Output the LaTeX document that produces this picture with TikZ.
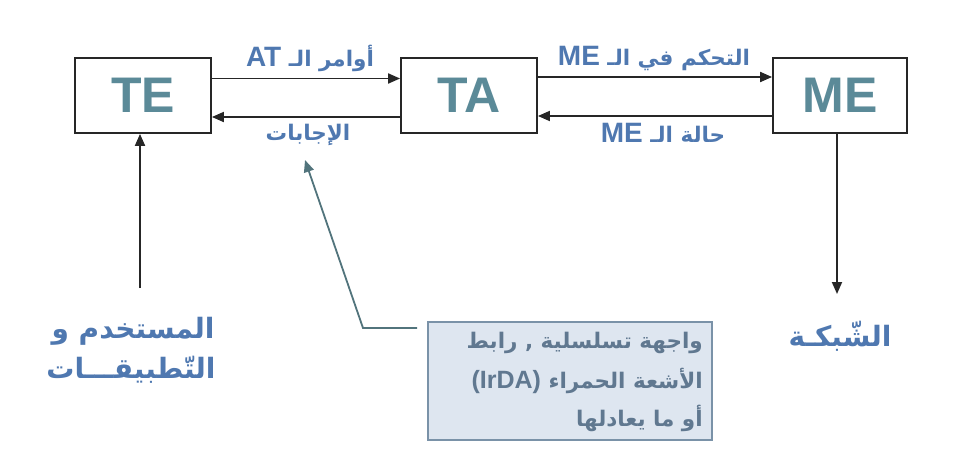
\documentclass[tikz,border=0pt]{standalone}
\usepackage{fontspec}
\usetikzlibrary{arrows.meta}
\setmainfont{Liberation Sans}
\newfontfamily\arabicfont[Script=Arabic]{DejaVu Sans}
\newfontfamily\latinfont{Liberation Sans}
\TeXXeTstate=1
\definecolor{boxtext}{HTML}{5B8A98}
\definecolor{lbl}{HTML}{4F78B0}
\definecolor{infofill}{HTML}{DEE6F0}
\definecolor{infoline}{HTML}{7A92A8}
\definecolor{leader}{HTML}{52747C}
\definecolor{infotext}{HTML}{607890}
\tikzset{
  unitbox/.style={draw=black!85, line width=1.8pt, fill=white, minimum width=136pt, minimum height=75pt,
    inner sep=0pt, font=\latinfont\bfseries\fontsize{50}{50}\selectfont, text=boxtext},
  arr/.style={draw=black!85, line width=1.8pt, -{Triangle[length=12pt,width=10pt]}},
  lab/.style={text=lbl, font=\arabicfont\bfseries\fontsize{21.5}{24}\selectfont, inner sep=0pt},
  biglab/.style={text=lbl, font=\arabicfont\bfseries\fontsize{28}{32}\selectfont, inner sep=0pt},
  infolab/.style={text=infotext, font=\arabicfont\bfseries\fontsize{21.5}{25}\selectfont, inner sep=0pt, anchor=east},
}
\begin{document}
\begin{tikzpicture}[x=1pt,y=-1pt]
\useasboundingbox (0,0) rectangle (978,471);
\node[unitbox] (TE) at (143,95.5) {TE};
\node[unitbox] (TA) at (469,95.5) {TA};
\node[unitbox, minimum width=134pt] (ME) at (840,95.5) {ME};
\draw[arr] ([yshift=17pt]TE.east) -- ([yshift=17pt]TA.west);
\draw[arr] ([yshift=-21.5pt]TA.west) -- ([yshift=-21.5pt]TE.east);
\draw[arr] ([yshift=18.5pt]TA.east) -- ([yshift=18.5pt]ME.west);
\draw[arr] ([yshift=-20.5pt]ME.west) -- ([yshift=-20.5pt]TA.east);
\node[lab] (l1) at (310,58) {\beginR أوامر الـ {\latinfont\fontsize{28}{28}\selectfont\beginL AT\endL}\endR};
\node[lab] (l2) at (308,135) {\beginR الإجابات\endR};
\node[lab] (l3) at (654,58) {\beginR التحكم في الـ {\latinfont\fontsize{28}{28}\selectfont\beginL ME\endL}\endR};
\node[lab] (l4) at (663,133) {\beginR حالة الـ {\latinfont\fontsize{28}{28}\selectfont\beginL ME\endL}\endR};
\node[biglab] (user1) at (133,331) {\beginR المستخدم و\endR};
\node[biglab] (user2) at (131,370) {\beginR التّطبيقـــات\endR};
\node[biglab] (net) at (840,336) {\beginR الشّبكـة\endR};
\coordinate (ua) at (140,288);
\draw[arr] (ua) -- (ua |- TE.south);
\coordinate (na) at (837,294);
\draw[arr] (na |- ME.south) -- (na);
\node[draw=infoline, line width=1.8pt, fill=infofill, minimum width=284pt, minimum height=118pt, inner sep=0pt] (info) at (570,381) {};
\node[infolab] (i1) at (703,343) {\beginR واجهة تسلسلية , رابط\endR};
\node[infolab] (i2) at (703,381) {\beginR الأشعة الحمراء {\latinfont\fontsize{25}{25}\selectfont\beginL(IrDA)\endL}\endR};
\node[infolab] (i3) at (703,418) {\beginR أو ما يعادلها\endR};
\coordinate (bend) at (363,328);
\coordinate (lt) at (305,160);
\draw[leader, line width=1.8pt, -{Triangle[length=12pt,width=10pt]}] ([xshift=-10pt]info.west |- bend) -- (bend) -- (lt);
\end{tikzpicture}
\end{document}
